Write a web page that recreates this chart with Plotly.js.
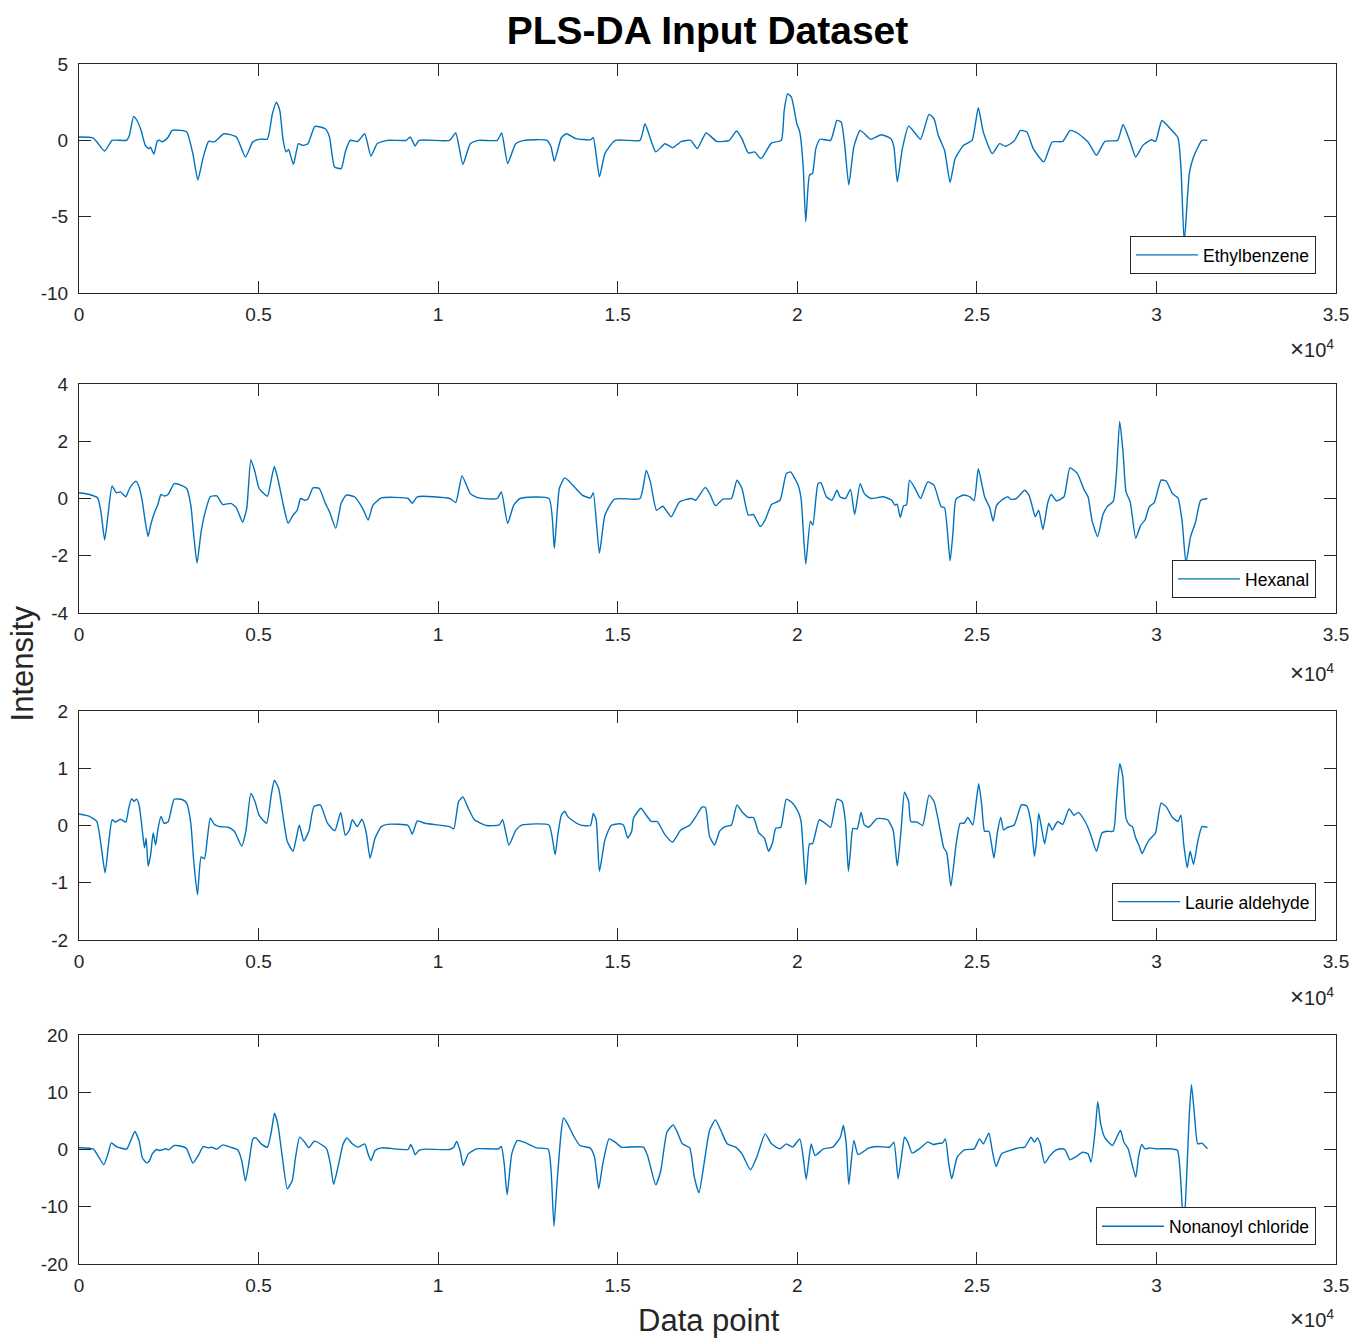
<!DOCTYPE html>
<html>
<head>
<meta charset="utf-8">
<script src="https://cdn.plot.ly/plotly-3.0.1.min.js"></script>
<style>html,body{margin:0;padding:0;background:#fff;}#chart{width:1353px;height:1341px;}</style>
</head>
<body>
<div id="chart"></div>
<script>
// ---------------- DATA ----------------
const seriesNames = ["Ethylbenzene", "Hexanal", "Laurie aldehyde", "Nonanoyl chloride"];

const xTickVals = [0, 5000, 10000, 15000, 20000, 25000, 30000, 35000];
const xTickText = ["0", "0.5", "1", "1.5", "2", "2.5", "3", "3.5"];

const yTicks1 = [-10, -5, 0, 5];
const yTicks2 = [-4, -2, 0, 2, 4];
const yTicks3 = [-2, -1, 0, 1, 2];
const yTicks4 = [-20, -10, 0, 10, 20];

const ethylX = [0,400,715,920,1325,1400,1522,1615,1730,1845,1937,1990,2087,2180,2250,2310,2390,2480,2594,2825,3000,3170,3309,3460,3609,3770,4035,4380,4635,4840,5040,5245,5385,5500,5590,5685,5765,5835,5970,6110,6225,6375,6570,6860,6975,7115,7300,7415,7550,7760,7955,8130,8300,8590,9110,9225,9360,9465,10320,10490,10690,10895,11125,11645,11770,11935,12160,12395,13030,13145,13235,13430,13570,13835,14240,14320,14490,14645,14930,15620,15760,15910,16060,16315,16525,16775,17030,17215,17462,17756,18108,18308,18460,18637,18813,18990,19283,19553,19636,19730,19836,19988,20070,20165,20235,20340,20423,20517,20635,20928,21105,21222,21316,21434,21575,21750,22045,22338,22608,22690,22785,22926,23100,23220,23432,23667,23808,23925,24100,24255,24395,24630,24865,25040,25180,25430,25630,25805,26040,26216,26392,26570,26863,27097,27390,27600,27800,28096,28330,28566,28918,29071,29270,29423,29623,29858,29976,30152,30387,30599,30681,30775,30916,31033,31268,31420];
const ethylY = [0.22,0.15,-0.7,0,0,0.3,1.57,1.3,0.65,-0.33,-0.54,-0.45,-0.9,-0.05,0,-0.1,0,0.2,0.65,0.65,0.55,-0.87,-2.6,-1.1,-0.07,-0.1,0.43,0.22,-1.09,-0.1,0.08,0.08,1.74,2.5,1.96,0,-0.76,-0.6,-1.57,-0.22,-0.33,-0.22,0.91,0.76,0.22,-1.74,-1.85,-0.76,0,-0.07,0.43,-1.04,-0.22,0,0,0.22,-0.37,0,0,0.48,-1.57,-0.22,0,0,0.48,-1.52,-0.22,0,0,-0.43,-1.37,0.17,0.43,0.11,0.04,0.17,-2.39,-0.87,0,0,1.09,0.11,-0.76,-0.22,-0.48,-0.07,0,-0.54,0.48,-0.07,0,0.61,0.1,-0.83,-0.76,-1.2,-0.17,0,1.96,3.04,2.83,1.09,0.54,-1.74,-5.33,-2.28,-2.17,-0.54,0.07,0,1.3,1.2,-0.22,-2.93,-0.43,0.65,0.07,0.37,0.11,-0.43,-2.72,-0.54,0.93,0.65,0.07,1.7,1.41,0.33,-0.65,-2.76,-1.2,-0.33,0,2.13,0.54,-0.87,-0.22,-0.39,-0.04,0.65,0.54,-0.54,-1.41,-0.11,-0.07,0.65,0.48,-0.11,-0.98,-0.07,0,1.04,-0.11,-1.09,-0.33,0.04,-0.07,1.3,0.76,0.17,-1.74,-6.7,-2.17,-1.09,0,0];

const hexanalX = [0,290,520,610,715,807,922,1038,1153,1303,1384,1500,1590,1672,1765,1845,1925,1995,2110,2190,2283,2365,2480,2652,2883,2998,3113,3194,3286,3401,3517,3655,3840,4000,4232,4380,4555,4670,4785,4900,5015,5245,5360,5440,5535,5710,5825,5960,6075,6170,6285,6375,6515,6690,6860,6975,7150,7300,7440,7670,7900,8050,8185,8420,9165,9280,9420,10320,10490,10665,10895,11125,11645,11760,11935,12105,12280,13085,13235,13375,13525,13665,14010,14240,14320,14490,14645,14910,15620,15795,15910,16080,16255,16485,16720,17060,17168,17440,17580,17720,17930,18167,18320,18460,18637,18780,18966,19107,19283,19518,19695,19812,20024,20106,20235,20364,20435,20576,20658,20810,20963,21105,21187,21340,21480,21598,21750,21868,22045,22397,22632,22715,22780,22867,22961,23040,23126,23280,23432,23632,23808,24007,24100,24255,24337,24420,24630,24805,24924,25040,25216,25358,25452,25546,25687,25863,25945,26100,26333,26451,26533,26627,26721,26839,26980,27073,27215,27426,27590,27800,27980,28096,28213,28365,28507,28625,28800,28883,28977,29071,29153,29270,29423,29564,29682,29800,29940,30129,30270,30446,30599,30716,30822,30951,31092,31233,31420];
const hexanalY = [0.2,0.14,0.02,-0.46,-1.45,-0.58,0.44,0.2,0.23,0.06,0.29,0.52,0.6,0.41,-0.12,-0.81,-1.33,-0.93,-0.46,-0.23,0.14,0.09,0.14,0.52,0.44,0.35,-0.23,-1.27,-2.26,-1.16,-0.46,0.06,0.09,-0.21,-0.17,-0.32,-0.83,-0.35,1.36,0.93,0.35,0.08,0.7,1.12,0.7,-0.35,-0.87,-0.58,-0.41,0,-0.06,-0.02,0.37,0.35,-0.17,-0.46,-1.04,-0.17,0.12,0.06,-0.35,-0.75,-0.23,0.02,0,-0.17,0.06,0,-0.14,0.79,0.17,0.02,0,0.23,-0.87,-0.23,0,0,-1.74,0.35,0.72,0.58,0.12,0.02,0.2,-1.91,-0.58,-0.02,0,0.98,0.58,-0.41,-0.27,-0.64,-0.12,0,-0.06,0.39,0.12,-0.25,-0.02,0,0.64,0.35,-0.58,-0.56,-0.98,-0.75,-0.21,-0.06,0.87,0.93,0.46,0,-2.29,-0.79,-0.93,0.52,0.55,0.06,-0.06,0.29,0.06,0,0.32,-0.56,0.52,0.17,0,0.06,-0.06,-0.23,-0.2,-0.66,-0.25,-0.23,0.64,0.35,0,0.58,0.46,-0.29,-0.32,-2.18,-1.16,-0.02,0.12,0.06,-0.08,1.04,0.06,-0.32,-0.79,-0.25,-0.06,0.06,-0.03,0,0.29,0.12,-0.23,-0.64,-0.41,-1.08,-0.12,0.14,-0.08,0.06,1.07,0.87,0.32,0.06,-0.81,-1.33,-0.58,-0.29,-0.09,0.81,2.69,1.62,0.23,-0.12,-1.39,-0.93,-0.75,-0.29,-0.14,0.64,0.61,0.17,0.02,-0.81,-2.26,-1.33,-0.81,-0.06,0];

const laurieX = [0,290,495,600,726,830,922,1015,1153,1303,1384,1465,1533,1603,1672,1741,1822,1870,1925,1995,2064,2133,2202,2283,2365,2480,2652,2883,2998,3113,3194,3298,3401,3494,3575,3655,3770,3920,4150,4325,4530,4647,4785,4900,5015,5223,5360,5440,5557,5710,5800,5960,6050,6134,6260,6400,6540,6720,6918,7125,7287,7415,7530,7610,7750,7875,7990,8105,8245,8420,8590,9165,9280,9420,9630,10320,10435,10570,10690,10840,11010,11355,11700,11795,11970,12165,12340,13085,13180,13260,13340,13430,13525,13605,13780,13950,14240,14320,14400,14490,14645,14815,15045,15160,15280,15390,15440,15645,15760,15935,16100,16315,16525,16755,17010,17180,17345,17440,17556,17697,17838,17990,18167,18320,18460,18637,18780,18930,19085,19200,19307,19400,19542,19695,19870,20024,20106,20235,20340,20423,20611,20776,20928,21105,21245,21340,21422,21480,21550,21668,21775,21868,21986,22220,22515,22667,22785,22890,22985,23100,23160,23337,23490,23667,23808,23984,24077,24160,24277,24420,24536,24650,24747,24888,24982,25052,25135,25216,25335,25475,25570,25664,25745,25830,26040,26240,26392,26510,26603,26660,26721,26804,26886,27003,27097,27250,27390,27567,27708,27826,28014,28155,28330,28483,28625,28800,28883,28977,29060,29153,29247,29330,29423,29510,29600,29717,29800,29893,29976,30129,30270,30446,30599,30681,30763,30857,30939,31033,31150,31268,31420];
const laurieY = [0.2,0.16,0.07,-0.28,-0.83,-0.28,0.1,0.06,0.11,0.06,0.3,0.47,0.42,0.46,0.36,0.04,-0.39,-0.22,-0.71,-0.51,-0.13,-0.34,-0.05,0.16,0.04,0.06,0.46,0.45,0.39,0.04,-0.62,-1.21,-0.55,-0.58,-0.22,0.13,0.02,-0.02,-0.03,-0.1,-0.36,-0.1,0.56,0.42,0.18,0.04,0.56,0.79,0.65,0.04,-0.28,-0.45,-0.22,0.01,-0.27,-0.1,0.33,0.36,0.04,-0.09,0.23,-0.17,-0.08,0.1,-0.02,0.11,-0.1,-0.57,-0.22,-0.02,0.02,0,-0.15,0.08,0.04,-0.02,-0.06,0.42,0.5,0.3,0.1,0,0.01,0.1,-0.34,-0.08,0.01,0.01,-0.22,-0.51,-0.13,0.18,0.25,0.16,0.07,0.01,0,0.21,0.1,-0.8,-0.25,0,0.03,0.01,-0.22,-0.1,0.13,0.3,0.21,0.07,0.07,-0.16,-0.29,-0.08,0.01,0.16,0.32,0.32,-0.19,-0.34,-0.1,-0.02,0.01,0.36,0.24,0.14,0.14,-0.13,-0.22,-0.45,-0.31,-0.05,-0.03,0.46,0.39,0.24,0.07,-1.03,-0.32,-0.32,0.1,0.04,-0.03,0.46,0.42,0.07,-0.8,-0.45,-0.05,-0.06,0.23,0.01,-0.03,0.12,0.1,-0.08,-0.71,-0.08,0.58,0.42,0.07,0.06,0,0.53,0.42,-0.1,-0.39,-0.47,-1.06,-0.34,0.04,0.04,0.14,0.01,0.42,0.73,0.36,-0.1,-0.1,-0.57,-0.13,0.14,-0.08,-0.04,0.01,0.36,0.34,0.04,-0.54,-0.28,0.21,-0.05,-0.32,0.04,-0.08,0.07,0.02,0.29,0.18,0.23,0.07,-0.13,-0.45,-0.13,-0.1,-0.1,0.42,1.08,0.87,0.13,0.01,-0.02,-0.22,-0.34,-0.49,-0.34,-0.25,-0.19,-0.13,0.39,0.33,0.14,0.07,0.18,-0.34,-0.74,-0.45,-0.68,-0.28,-0.02,-0.03];

const nonanoylX = [0,400,553,690,807,900,1038,1325,1440,1556,1672,1764,1880,1960,2040,2156,2250,2420,2500,2652,2883,2998,3170,3320,3460,3610,3700,3840,4000,4210,4416,4530,4635,4727,4843,4923,5073,5246,5361,5442,5534,5650,5800,5938,6030,6145,6284,6400,6550,6745,6895,6999,7090,7230,7356,7460,7610,7760,7955,8048,8130,8245,8420,9165,9235,9300,9360,9465,9630,10320,10435,10515,10610,10700,10840,11070,11680,11760,11840,11920,12050,12200,12395,12740,13065,13145,13225,13315,13430,13490,13605,13780,13950,14240,14355,14470,14585,14760,14930,15105,15716,15830,16060,16200,16370,16545,16660,16800,17005,17133,17262,17403,17556,17720,17873,18049,18285,18460,18696,18872,19107,19283,19518,19695,19870,20070,20165,20247,20330,20388,20494,20729,20987,21199,21281,21363,21434,21575,21692,21986,22220,22573,22690,22808,22926,22985,23080,23197,23397,23632,23784,23949,24040,24124,24218,24300,24453,24653,24924,25076,25180,25334,25428,25534,25687,25863,26157,26333,26510,26603,26686,26768,26886,27038,27191,27332,27450,27590,27743,27943,28096,28178,28295,28366,28448,28566,28777,28918,29001,29095,29212,29423,29500,29588,29682,29835,29976,30387,30587,30658,30763,30857,30916,30975,31057,31150,31268,31420];
const nonanoylY = [0.3,0.06,-1.34,-2.67,-0.76,1.16,0.52,0.06,1.57,3.14,1.57,-1.45,-2.33,-2.0,-0.76,0,-0.17,0.12,-0.06,0.7,0.52,0.12,-2.38,-1.05,0.52,0.29,0.4,0.06,0.81,0.41,-0.06,-1.92,-5.52,-2.5,1.86,2.03,0.99,0.41,3.31,6.34,4.48,-0.76,-6.86,-5.41,-1.34,2.15,1.28,0.29,1.45,0.87,0.12,-2.5,-6.1,-2.5,0.99,2.03,0.99,0.41,0.99,-0.76,-1.92,-0.17,0.29,0,0.87,0.1,-0.93,-0.17,0.06,0,0.41,1.4,-0.17,-2.79,-0.76,0.12,0.12,0.52,-2.5,-7.9,-0.76,1.57,1.28,0.29,0.06,-3.66,-13.4,-5.41,3.31,5.52,4.48,2.27,0.7,0.23,-1.34,-6.86,-2.5,1.86,1.28,0.41,0.41,-1.05,-6.16,-3.66,3.02,4.3,3.02,0.99,0.29,-4.83,-7.56,-2.5,3.31,5.17,3.31,0.99,0.41,-0.76,-3.55,-1.34,2.73,0.99,0.12,0.99,0.41,1.86,-1.34,-5.23,-1.34,0.99,-1.05,0.12,0.41,2.15,4.19,0.99,-6.1,1.57,-0.87,0.23,0.52,0.41,1.28,-5.12,-0.17,2.15,1.28,-0.64,0.12,1.28,0.87,1.1,1.1,1.86,-2.5,-5.12,-1.34,-0.06,0.12,1.86,0.99,2.85,-0.17,-2.97,-0.76,-0.29,0.29,0.41,2.15,1.28,2.03,0.99,-2.38,-1.05,-0.17,0.12,0,-1.8,-1.34,-0.47,-0.76,-2.21,3.31,8.37,4.48,2.03,0.7,2.44,3.31,1.28,0.12,-4.83,-1.34,0.87,0.12,0.29,0.12,0.12,-0.17,-3.66,-14,-2.5,6.22,11.3,6.22,0.99,1.1,0.12];

// ---------------- STYLE ----------------
const FONT = "'Liberation Sans', Arial, Helvetica, sans-serif";
const AXC = "#262626";
const LINEC = "#0072BD";

const xs = [ethylX, hexanalX, laurieX, nonanoylX];
const ys = [ethylY, hexanalY, laurieY, nonanoylY];
const yTicks = [yTicks1, yTicks2, yTicks3, yTicks4];
const domains = [[0.80917, 1], [0.5425, 0.73333], [0.27, 0.46083], [0, 0.19083]];
const legendY = [0.825, 0.555, 0.286, 0.0155];
const x104Y = [0.7633, 0.4933, 0.2233, -0.045];

const traces = [];
const layout = {
  width: 1353, height: 1341,
  margin: {l: 79, r: 17, t: 64, b: 77},
  paper_bgcolor: "#fff", plot_bgcolor: "#fff",
  font: {family: FONT, color: AXC, size: 19},
  showlegend: true,
  title: {text: "<b>PLS-DA Input Dataset</b>", font: {family: FONT, size: 39, color: "#000"},
          x: 0.5, xref: "paper", xanchor: "center", y: 1 - 30/1341, yref: "container", yanchor: "middle"},
  annotations: [
    {text: "Intensity", xref: "paper", yref: "paper", x: -0.045, y: 0.5008, textangle: -90,
     showarrow: false, xanchor: "center", yanchor: "middle", font: {size: 31, color: AXC}},
    {text: "Data point", xref: "paper", yref: "paper", x: 0.5012, y: -0.047,
     showarrow: false, xanchor: "center", yanchor: "middle", font: {size: 31, color: AXC}}
  ]
};

for (let i = 0; i < 4; i++) {
  const n = i === 0 ? "" : String(i + 1);
  traces.push({
    x: xs[i], y: ys[i], type: "scatter", mode: "lines", name: seriesNames[i],
    xaxis: "x" + n, yaxis: "y" + n, legend: "legend" + n,
    line: {color: LINEC, width: 1.4, shape: "spline", smoothing: 0.5}
  });
  const yt = yTicks[i];
  layout["xaxis" + n] = {
    domain: [0, 1], anchor: "y" + n, range: [0, 35000],
    tickmode: "array", tickvals: xTickVals, ticktext: xTickText,
    ticks: "inside", ticklen: 12, tickwidth: 1, tickcolor: AXC,
    showline: true, linecolor: AXC, linewidth: 1, mirror: "ticks",
    showgrid: false, zeroline: false, tickfont: {size: 19, color: AXC},
    ticklabelstandoff: 4
  };
  layout["yaxis" + n] = {
    domain: domains[i], anchor: "x" + n, range: [yt[0], yt[yt.length - 1]],
    tickmode: "array", tickvals: yt, ticktext: yt.map(v => String(v)),
    ticks: "inside", ticklen: 12, tickwidth: 1, tickcolor: AXC,
    showline: true, linecolor: AXC, linewidth: 1, mirror: "ticks",
    showgrid: false, zeroline: false, tickfont: {size: 19, color: AXC},
    ticklabelstandoff: 6
  };
  layout["legend" + n] = {
    x: 0.9841, y: legendY[i], xref: "paper", yref: "paper", xanchor: "right", yanchor: "bottom",
    bgcolor: "#fff", bordercolor: AXC, borderwidth: 1, font: {size: 17.5, color: "#000"},
    itemwidth: 62
  };
  layout.annotations.push({
    text: "<span style='font-size:24px'>\u00d7</span>10<sup>4</sup>", xref: "paper", yref: "paper", x: 1, y: x104Y[i],
    xanchor: "right", yanchor: "middle", showarrow: false, font: {size: 20, color: AXC}
  });
}

Plotly.newPlot("chart", traces, layout, {displayModeBar: false, staticPlot: true});
</script>
</body>
</html>
